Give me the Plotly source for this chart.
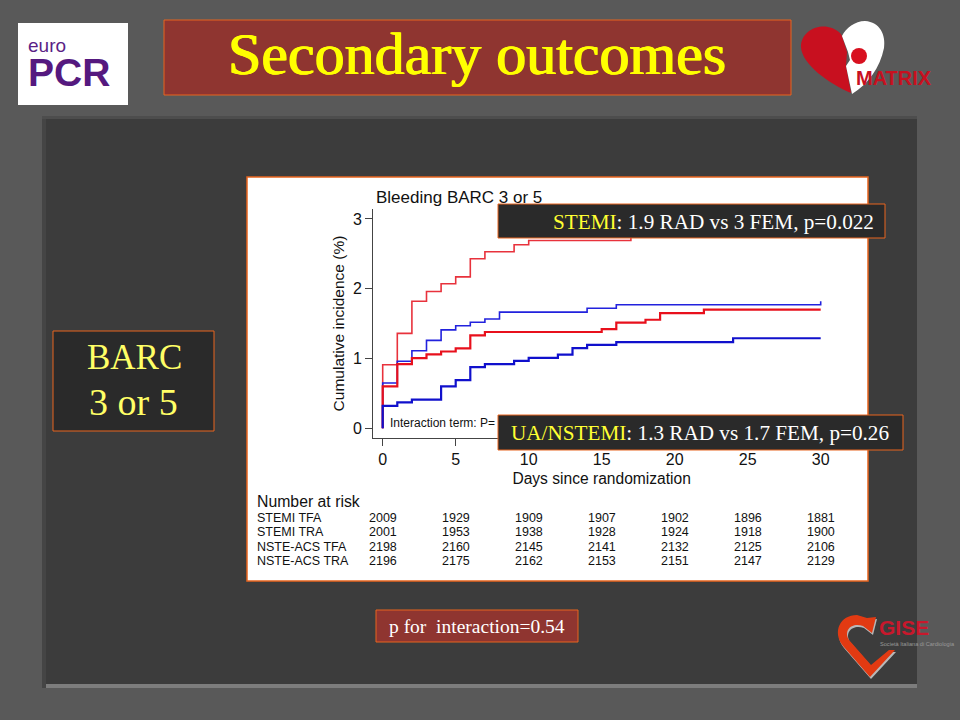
import plotly.graph_objects as go

W, H = 960, 720

# --- data ---
stemi_tfa_x = [0, 0, 1, 2, 3, 4, 5, 6, 7, 9, 10, 17, 20, 30]
stemi_tfa_y = [0, 0.91, 1.36, 1.82, 1.96, 2.07, 2.17, 2.43, 2.53, 2.63, 2.69, 2.8, 2.95, 3.0]
stemi_tra_x = [0, 0, 1, 2, 3, 4, 5, 6, 7, 8, 14, 16, 30]
stemi_tra_y = [0, 0.65, 0.96, 1.11, 1.26, 1.41, 1.47, 1.52, 1.565, 1.665, 1.72, 1.77, 1.82]
nste_tfa_x = [0, 0, 1, 2, 3, 4, 5, 6, 7, 15, 16, 18, 19, 22, 30]
nste_tfa_y = [0, 0.6, 0.92, 1.005, 1.06, 1.10, 1.145, 1.33, 1.38, 1.42, 1.515, 1.555, 1.65, 1.70, 1.70]
nste_tra_x = [0, 0, 1, 2, 4, 5, 6, 7, 9, 10, 12, 13, 14, 16, 24, 30]
nste_tra_y = [0, 0.32, 0.37, 0.41, 0.6, 0.69, 0.875, 0.92, 0.965, 1.01, 1.055, 1.15, 1.195, 1.235, 1.29, 1.29]

x_ticks = [0, 5, 10, 15, 20, 25, 30]
y_ticks = [0, 1, 2, 3]
risk_labels = ["STEMI TFA", "STEMI TRA", "NSTE-ACS TFA", "NSTE-ACS TRA"]
risk_rows = [
    [2009, 1929, 1909, 1907, 1902, 1896, 1881],
    [2001, 1953, 1938, 1928, 1924, 1918, 1900],
    [2198, 2160, 2145, 2141, 2132, 2125, 2106],
    [2196, 2175, 2162, 2153, 2151, 2147, 2129],
]

# --- helpers (pixel positions of the slide furniture) ---
def px(x): return x / W
def py(y): return 1 - y / H

def rect(x0, y0, x1, y1, fill, line=None, lw=1, layer="below"):
    return dict(type="rect", xref="paper", yref="paper", x0=px(x0), x1=px(x1), y0=py(y1), y1=py(y0),
                fillcolor=fill, line=dict(color=line or fill, width=lw if line else 0), layer=layer)

def path(points, fill, layer="below", dx=0, dy=0):
    d = ""
    for cmd, pts in points:
        d += cmd + " ".join(f"{px(a + dx):.5f},{py(b + dy):.5f}" for a, b in pts) + " "
    return dict(type="path", xref="paper", yref="paper", path=d + "Z", fillcolor=fill,
                line=dict(width=0), layer=layer)

def label(x, y, text, size, color="black", family="Liberation Sans", anchor="center", **kw):
    return dict(xref="paper", yref="paper", x=px(x), y=py(y), text=text, showarrow=False,
                font=dict(size=size, color=color, family=family), xanchor=anchor, yanchor="middle", **kw)

ORANGE = "#e8641e"
SERIF = "Liberation Serif"
gise_heart = [("M", [(870, 677)]), ("L", [(843, 646)]), ("C", [(832, 632), (840, 615), (857, 615)]),
              ("L", [(867, 618)]), ("L", [(876, 617)]), ("L", [(872, 633)]), ("L", [(863, 626)]),
              ("C", [(852, 622), (843, 630), (849, 640)]), ("L", [(871, 665)]), ("L", [(889, 650)]),
              ("L", [(895, 650)])]
shapes = [
    rect(42, 116, 917, 688, "#3c3c3c"),
    rect(42, 684, 917, 688, "#7d7d7d"),
    rect(42, 116, 46, 688, "#454545"),
    rect(42, 116, 917, 119, "#4d4d4d"),
    rect(247, 177, 868, 581, "white", ORANGE, 1.5),
    rect(18, 23, 128, 105, "white"),
    rect(164, 20, 791, 95, "#8f3530", ORANGE, 1),
    rect(53, 331, 214, 431, "#2a2a2a", ORANGE, 1),
    rect(376, 610, 578, 642, "#8f3530", ORANGE, 1),
    rect(498, 204, 885, 238, "#2a2a2a", ORANGE, 1, "above"),
    rect(498, 415, 903, 450, "#2a2a2a", ORANGE, 1, "above"),
    # MATRIX heart logo
    path([("M", [(851, 93)]), ("C", [(830, 84), (802, 65), (801, 47)]),
          ("C", [(801, 30), (820, 23), (832, 28)]), ("C", [(838, 31), (841, 33), (842, 36)]),
          ("L", [(847, 52)]), ("L", [(846, 66)])], "#c8101f"),
    path([("M", [(842, 36)]), ("C", [(846, 28), (855, 21), (865, 21)]),
          ("C", [(880, 22), (886, 35), (884, 48)]), ("C", [(880, 68), (868, 84), (852, 94)]),
          ("L", [(846, 66)]), ("L", [(850, 60)]), ("L", [(848, 52)])], "white"),
    dict(type="circle", xref="paper", yref="paper", x0=px(851), x1=px(867), y0=py(64), y1=py(48),
         fillcolor="#d8101f", line=dict(width=0), layer="below"),
    # GISE heart logo
    path(gise_heart, "#b8b8b8", dx=1, dy=2),
    path(gise_heart, "#e23a12"),
]

title_label = label(477, 54, "Secondary outcomes", 60, "#ffff00", SERIF)
title_label["font"]["shadow"] = "0.7px 0 0 #ffff00, -0.7px 0 0 #ffff00"
annotations = [
    title_label,
    label(134, 357, "BARC", 35, "#ffff66", SERIF),
    label(133, 402, "3 or 5", 38, "#ffff66", SERIF),
    label(477, 626, "p for  interaction=0.54", 19.5, "white", SERIF),
    label(876, 222, "<span style='color:#ffff33'>STEMI</span>: 1.9 RAD vs 3 FEM, p=0.022", 21.2, "white", SERIF, "right"),
    label(891, 433, "<span style='color:#ffff33'>UA/NSTEMI</span>: 1.3 RAD vs 1.7 FEM, p=0.26", 21.2, "white", SERIF, "right"),
    label(26, 64, "<span style='font-size:19px;color:#5b1f86'>euro</span><br><b style='font-size:39px'>PCR</b>",
          26, "#55197f", "Liberation Sans", "left", align="left"),
    label(854, 78, "<b>MATRIX</b>", 20, "#c8101f", "Liberation Sans", "left"),
    label(877, 627, "<b>GISE</b>", 21, "#c8182c", "Liberation Sans", "left"),
    label(878, 644, "Società Italiana di Cardiologia", 5.6, "#9a9a9a", "Liberation Sans", "left"),
    label(374, 197, "Bleeding BARC 3 or 5", 17, "#111111", "Liberation Sans", "left"),
    label(388, 423, "Interaction term: P=", 12, "#111111", "Liberation Sans", "left"),
    label(255, 501, "Number at risk", 15.8, "#111111", "Liberation Sans", "left"),
]

X0, XS, Y0, YS = 382.7, 14.6, 428.3, 69.8
for r, (name, row) in enumerate(zip(risk_labels, risk_rows)):
    y = 517.5 + r * 14.6
    annotations.append(label(255, y, name, 12.5, "#111111", "Liberation Sans", "left"))
    for d, v in zip(x_ticks, row):
        annotations.append(label(X0 + XS * d, y, str(v), 12.5, "#111111"))

fig = go.Figure()
series = [
    (stemi_tfa_x, stemi_tfa_y, "#e8323c", 1.6, "STEMI TFA"),
    (stemi_tra_x, stemi_tra_y, "#2222dd", 1.6, "STEMI TRA"),
    (nste_tfa_x, nste_tfa_y, "#e8101c", 2.2, "NSTE-ACS TFA"),
    (nste_tra_x, nste_tra_y, "#1010cc", 2.2, "NSTE-ACS TRA"),
]
for xs, ys, col, w, name in series:
    fig.add_trace(go.Scatter(x=xs, y=ys, mode="lines", name=name,
                             line=dict(color=col, width=w, shape="hv"), hoverinfo="skip"))

axis_color = "#444444"
fig.update_layout(
    width=W, height=H, margin=dict(l=0, r=0, t=0, b=0), autosize=False, showlegend=False,
    paper_bgcolor="#595959", plot_bgcolor="rgba(0,0,0,0)",
    shapes=shapes, annotations=annotations,
    xaxis=dict(domain=[px(373.3), px(830)], range=[(373.3 - X0) / XS, (830 - X0) / XS],
               tickvals=x_ticks, ticks="outside", ticklen=7, tickcolor=axis_color, showgrid=False,
               zeroline=False, showline=True, linecolor=axis_color, linewidth=1.2,
               tickfont=dict(family="Liberation Sans", size=16, color="#111111"),
               title=dict(text="Days since randomization", standoff=5,
                          font=dict(family="Liberation Sans", size=15.6, color="#111111"))),
    yaxis=dict(domain=[py(438), py(209)], range=[(Y0 - 438) / YS, (Y0 - 209) / YS],
               tickvals=y_ticks, ticks="outside", ticklen=7, tickcolor=axis_color, showgrid=False,
               zeroline=False, showline=True, linecolor=axis_color, linewidth=1.2,
               tickfont=dict(family="Liberation Sans", size=16, color="#111111"),
               title=dict(text="Cumulative incidence (%)", standoff=4,
                          font=dict(family="Liberation Sans", size=15.5, color="#111111"))),
)
fig.write_html("out.html", config=dict(displayModeBar=False),
               post_script="document.body.style.margin='0';document.body.style.overflow='hidden';")
